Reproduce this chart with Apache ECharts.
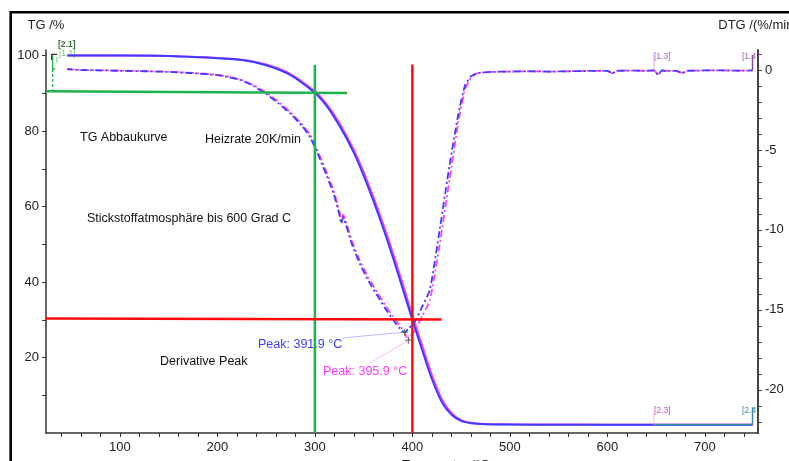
<!DOCTYPE html>
<html>
<head>
<meta charset="utf-8">
<script src="https://cdn.jsdelivr.net/npm/echarts@6/dist/echarts.min.js"></script>
<style>
  html, body { margin: 0; padding: 0; background: #fff; }
  #chart { width: 789px; height: 461px; }
</style>
</head>
<body>
<div id="chart"></div>
<script>
// TG curves (mass %, left axis) over temperature
const tgTemp = [46, 100, 150, 175, 200, 225, 250, 275, 300, 310, 320, 330, 340, 350, 360, 370, 380, 390, 400, 410, 420, 430, 440, 450, 460, 475, 500, 550, 600, 650, 700, 749];
const tgBlue = [100, 100, 99.9, 99.6, 99.3, 98.8, 97.4, 94.8, 90.1, 87.3, 83.6, 79.2, 74.2, 68.2, 61.5, 54.3, 46.5, 38.3, 30.0, 22.0, 14.3, 8.3, 4.9, 3.2, 2.6, 2.35, 2.25, 2.2, 2.2, 2.2, 2.2, 2.2];
const tgPink = [100, 100, 99.9, 99.65, 99.35, 98.9, 97.6, 95.1, 90.5, 87.8, 84.2, 79.9, 75.0, 69.2, 62.5, 55.4, 47.7, 39.5, 31.2, 23.2, 15.4, 9.1, 5.3, 3.4, 2.7, 2.4, 2.3, 2.25, 2.2, 2.2, 2.2, 2.2];

// DTG curves (%/min, right axis)
const dtgTemp = [46, 60, 80, 100, 125, 150, 175, 200, 212, 225, 237, 250, 262, 275, 287, 295, 302, 310, 319, 325, 327, 329, 332, 338, 346, 355, 365, 372, 380, 386, 391.9, 395.9, 400, 404, 410, 418, 428, 438, 447, 454, 460, 466, 480, 500, 520, 540, 560, 580, 600, 605, 610, 620, 640, 648, 652, 656, 660, 670, 677, 682, 690, 700, 720, 740, 749];
const dtgBlue = [0.05, 0.0, -0.02, -0.05, -0.08, -0.12, -0.2, -0.32, -0.45, -0.65, -1.0, -1.5, -2.05, -2.75, -3.5, -4.2, -5.1, -6.3, -7.7, -9.0, -9.6, -9.2, -9.7, -10.9, -12.1, -13.2, -14.2, -14.9, -15.6, -16.1, -16.4, -16.2, -15.9, -15.6, -14.8, -13.75, -10.0, -6.0, -2.8, -0.95, -0.4, -0.2, -0.12, -0.1, -0.08, -0.1, -0.08, -0.06, -0.05, -0.2, -0.05, -0.04, -0.05, -0.02, -0.3, -0.02, -0.05, -0.05, -0.18, -0.05, -0.04, -0.03, -0.03, -0.04, -0.03];
const dtgPink = [0.05, 0.0, -0.02, -0.04, -0.07, -0.11, -0.18, -0.3, -0.42, -0.62, -0.95, -1.42, -1.95, -2.65, -3.4, -4.05, -4.95, -6.1, -7.5, -8.8, -9.45, -9.05, -9.5, -10.7, -11.9, -13.0, -14.0, -14.7, -15.4, -15.9, -16.4, -16.9, -16.5, -16.1, -15.4, -14.4, -10.9, -6.9, -3.3, -1.2, -0.5, -0.22, -0.12, -0.1, -0.08, -0.1, -0.08, -0.06, -0.05, -0.2, -0.05, -0.04, -0.05, -0.02, -0.3, -0.02, -0.05, -0.05, -0.18, -0.05, -0.04, -0.03, -0.03, -0.04, -0.03];

// DTG peak evaluation (temperature, value)
const peakTemp = [391.9, 395.9];
const peakDtg = [-16.4, -16.9];

// Evaluation construction lines (temperature, TG %)
const greenVertical = [[300, 0], [300, 97.5]];
const greenHorizontal = [[24.2, 90.55], [333, 90.05]];
const redVertical = [[400, 0], [400, 97.6]];
const redHorizontal = [[24.2, 30.3], [430, 30.05]];

// Axis ticks and labels
const xLabels = [100, 200, 300, 400, 500, 600, 700];
const tgLabels = [20, 40, 60, 80, 100];
const dtgLabels = [-20, -15, -10, -5, 0];

const xTicks = [];
for (let t = 40; t <= 740; t += 20) xTicks.push(t);
const tgTicks = [];
for (let v = 10; v <= 100; v += 10) tgTicks.push(v);
const dtgTicks = [];
for (let v = -22; v <= 1; v += 1) dtgTicks.push(v);

const FONT = '"Liberation Sans", Arial, Helvetica, sans-serif';
const BLUE = '#3c3cff';
const PINK = '#ff3cff';
const GREEN = '#1fb14c';
const RED = '#ff0a0a';

const zip = (xs, ys) => xs.map((x, i) => [x, ys[i]]);

function segment(points, color, width, yAxisIndex, type, z) {
  return {
    type: 'line', data: points, yAxisIndex: yAxisIndex || 0,
    showSymbol: false, silent: true, animation: false, z: z || 5,
    lineStyle: { color: color, width: width, type: type || 'solid' }
  };
}

const chart = echarts.init(document.getElementById('chart'), null, { renderer: 'canvas' });

const dashDot = [7, 3, 2, 3];

const option = {
  animation: false,
  backgroundColor: '#ffffff',
  grid: { left: 46, right: 31, top: 50, bottom: 28, containLabel: false, outerBoundsMode: 'none' },
  xAxis: {
    type: 'value', min: 24.2, max: 754.5,
    name: 'Temperatur /°C', nameLocation: 'middle', nameGap: 19,
    nameTextStyle: { fontFamily: FONT, fontSize: 13, color: '#222', align: 'left', verticalAlign: 'top' },
    axisLine: { show: true, lineStyle: { color: '#333', width: 1.5 } },
    axisTick: { show: true, length: 4, customValues: xTicks, lineStyle: { color: '#333', width: 1 } },
    axisLabel: { customValues: xLabels, margin: 8, fontFamily: FONT, fontSize: 13, color: '#222' },
    splitLine: { show: false }
  },
  yAxis: [
    {
      type: 'value', position: 'left', min: 0, max: 101.46,
      name: 'TG /%', nameLocation: 'end', nameGap: 18,
      nameTextStyle: { fontFamily: FONT, fontSize: 13, color: '#222', align: 'center' },
      axisLine: { show: true, lineStyle: { color: '#333', width: 1.5 } },
      axisTick: { show: true, length: 4, customValues: tgTicks, lineStyle: { color: '#333' } },
      axisLabel: { customValues: tgLabels, margin: 7, fontFamily: FONT, fontSize: 13, color: '#222' },
      splitLine: { show: false }
    },
    {
      type: 'value', position: 'right', min: -22.7, max: 1.25,
      name: 'DTG /(%/min)', nameLocation: 'end', nameGap: 18,
      nameTextStyle: { fontFamily: FONT, fontSize: 13, color: '#222', align: 'center' },
      axisLine: { show: true, lineStyle: { color: '#444', width: 2 } },
      axisTick: { show: true, length: 4, customValues: dtgTicks, lineStyle: { color: '#444' } },
      axisLabel: { customValues: dtgLabels, margin: 7, fontFamily: FONT, fontSize: 13, color: '#222' },
      splitLine: { show: false }
    }
  ],
  series: [
    // TG curves
    { type: 'line', name: 'TG 2', data: zip(tgTemp, tgPink), yAxisIndex: 0, showSymbol: false, smooth: 0.3, z: 2,
      lineStyle: { color: PINK, width: 2 } },
    { type: 'line', name: 'TG 1', data: zip(tgTemp, tgBlue), yAxisIndex: 0, showSymbol: false, smooth: 0.3, z: 3,
      lineStyle: { color: BLUE, width: 2 } },
    // DTG curves
    { type: 'line', name: 'DTG 2', data: zip(dtgTemp, dtgPink), yAxisIndex: 1, showSymbol: false, smooth: 0.15, z: 2,
      lineStyle: { color: PINK, width: 1.8, type: dashDot } },
    { type: 'line', name: 'DTG 1', data: zip(dtgTemp, dtgBlue), yAxisIndex: 1, showSymbol: false, smooth: 0.15, z: 3,
      lineStyle: { color: BLUE, width: 1.8, type: dashDot, dashOffset: 2 } },

    // Construction lines
    segment(greenVertical, GREEN, 2.5, 0, 'solid', 6),
    segment(greenHorizontal, GREEN, 2.5, 0, 'solid', 6),
    segment(redVertical, RED, 2.5, 0, 'solid', 6),
    segment(redHorizontal, RED, 2.5, 0, 'solid', 6),

    // Peak leader lines
    segment([[328.7, -16.75], [peakTemp[0], peakDtg[0]]], '#b9b9ff', 1, 1, 'solid', 7),
    segment([[353.3, -18.44], [peakTemp[1], peakDtg[1]]], '#ffb9ff', 1, 1, 'solid', 7),

    // Peak markers
    {
      type: 'scatter', yAxisIndex: 1, z: 8, silent: true,
      data: zip(peakTemp, peakDtg),
      symbol: 'path://M5,0L5,10M0,5L10,5', symbolSize: 7,
      itemStyle: { color: 'none', borderColor: '#555', borderWidth: 1.2 }
    },

    // Segment start / end brackets
    segment([[35.7, 100.3], [30, 100.3], [30, 98.8]], '#333', 1.3, 0, 'solid', 7),
    segment([[31, 100], [31, 96.4], [33.8, 96.4]], GREEN, 1.3, 0, 'solid', 7),
    segment([[31, 96.4], [31, 90.6]], GREEN, 1.3, 0, [3, 2], 7),
    segment([[35.4, 99.6], [35.4, 98.0]], '#7ad07a', 1, 0, 'solid', 7),
    segment([[647.7, 1.06], [647.7, 0.1]], '#d9b0f0', 1, 1, 'solid', 7),
    segment([[748.9, 0.94], [748.9, 0.0]], '#8a4a98', 1.5, 1, 'solid', 7),
    segment([[647.7, 2.2], [748.9, 2.2]], '#2f8f9c', 1.6, 0, 'solid', 7),
    segment([[647.7, 2.2], [647.7, 5.4]], '#f0b0f0', 1, 0, 'solid', 7),
    segment([[748.9, 2.2], [748.9, 6.8]], '#3a8aa8', 1.5, 0, 'solid', 7)
  ],
  graphic: [
    // outer frame
    { type: 'rect', silent: true, z: 100,
      shape: { x: 10.7, y: 12.2, width: 820, height: 480 },
      style: { fill: 'none', stroke: '#000', lineWidth: 2.6 } },
    // annotation texts
    { type: 'text', x: 80, y: 138, style: { text: 'TG Abbaukurve', font: '12.5px ' + FONT, fill: '#111', verticalAlign: 'middle' } },
    { type: 'text', x: 205, y: 140, style: { text: 'Heizrate 20K/min', font: '12.5px ' + FONT, fill: '#111', verticalAlign: 'middle' } },
    { type: 'text', x: 87, y: 219, style: { text: 'Stickstoffatmosphäre bis 600 Grad C', font: '12.5px ' + FONT, fill: '#111', verticalAlign: 'middle' } },
    { type: 'text', x: 160, y: 362, style: { text: 'Derivative Peak', font: '12.5px ' + FONT, fill: '#111', verticalAlign: 'middle' } },
    { type: 'text', x: 258, y: 345, style: { text: 'Peak: ' + peakTemp[0].toFixed(1) + ' °C', font: '12.5px ' + FONT, fill: BLUE, verticalAlign: 'middle' } },
    { type: 'text', x: 323, y: 372, style: { text: 'Peak: ' + peakTemp[1].toFixed(1) + ' °C', font: '12.5px ' + FONT, fill: PINK, verticalAlign: 'middle' } },
    // segment tags
    { type: 'text', x: 58, y: 45, style: { text: '[2.1]', font: 'bold 8.5px ' + FONT, fill: '#3c6a3c', verticalAlign: 'middle' } },
    { type: 'text', x: 59, y: 54, style: { text: '[1.1]', font: '8.5px ' + FONT, fill: '#6cc86c', verticalAlign: 'middle' } },
    { type: 'text', x: 654, y: 57, style: { text: '[1.3]', font: '8.5px ' + FONT, fill: '#b050e0', verticalAlign: 'middle' } },
    { type: 'text', x: 742, y: 57, style: { text: '[1.4', font: '8.5px ' + FONT, fill: '#9a5aa8', verticalAlign: 'middle' } },
    { type: 'text', x: 654, y: 411, style: { text: '[2.3]', font: '8.5px ' + FONT, fill: '#d040d0', verticalAlign: 'middle' } },
    { type: 'text', x: 742, y: 411, style: { text: '[2.4', font: '8.5px ' + FONT, fill: '#3d88a8', verticalAlign: 'middle' } }
  ]
};

chart.setOption(option);
</script>
</body>
</html>
